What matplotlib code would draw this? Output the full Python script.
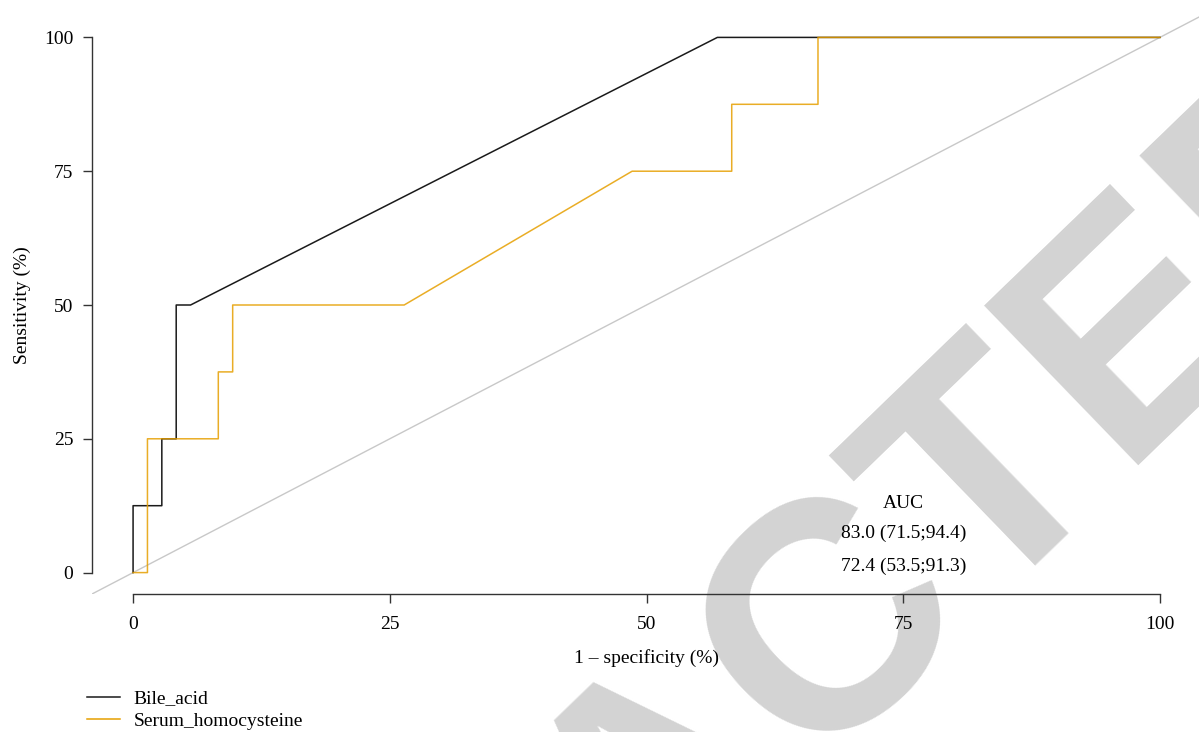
import matplotlib.pyplot as plt
from matplotlib.lines import Line2D

# ROC coordinates (1 - specificity, sensitivity), in percent
bile_fpr = [0, 0, 2.8, 2.8, 4.2, 4.2, 5.6, 56.9, 100]
bile_tpr = [0, 12.5, 12.5, 25, 25, 50, 50, 100, 100]

hcy_fpr = [0, 1.4, 1.4, 8.3, 8.3, 9.7, 9.7, 26.4, 48.6, 58.3, 58.3, 66.7, 66.7, 100]
hcy_tpr = [0, 0, 25, 25, 37.5, 37.5, 50, 50, 75, 75, 87.5, 87.5, 100, 100]

series_names = ['Bile_acid', 'Serum_homocysteine']
auc_labels = ['83.0 (71.5;94.4)', '72.4 (53.5;91.3)']
ticks = [0, 25, 50, 75, 100]

BLACK = '#1a1a1a'
ORANGE = '#E69F00'

plt.rcParams['font.family'] = ['Liberation Serif', 'DejaVu Serif']
plt.rcParams['font.size'] = 14

fig = plt.figure(figsize=(11.99, 7.32), dpi=100)
ax = fig.add_axes([92 / 1199, 1 - 594 / 732, 1109 / 1199, 578 / 732])
ax.patch.set_facecolor('none')

# watermark sits underneath the plot
fig.text(0.603, -0.155, 'RETRACTED', family='Liberation Sans', weight='bold',
         fontsize=233, color='#d3d3d3', rotation=44, rotation_mode='anchor',
         ha='center', va='baseline', zorder=-5)

ax.axline((0, 0), (100, 100), color='#c8c8c8', lw=1.0, zorder=1)
ax.plot(bile_fpr, bile_tpr, color=BLACK, lw=1.1, zorder=2)
ax.plot(hcy_fpr, hcy_tpr, color=ORANGE, lw=1.1, alpha=0.85, zorder=3)

ax.set_xlim(-4, 104)
ax.set_ylim(-4, 104)
ax.set_xticks(ticks)
ax.set_yticks(ticks)
for side in ('top', 'right'):
    ax.spines[side].set_visible(False)
ax.spines['left'].set_bounds(0, 100)
ax.spines['bottom'].set_bounds(0, 100)
for side in ('left', 'bottom'):
    ax.spines[side].set_color('#333333')
    ax.spines[side].set_linewidth(1.0)
ax.tick_params(length=6.5, width=1.0, color='#333333', pad=7, labelsize=14)
ax.tick_params(axis='x', pad=9)

ax.set_xlabel('1 \u2013 specificity (%)', labelpad=12)
ax.set_ylabel('Sensitivity (%)', labelpad=9)

ax.text(75, 13.0, 'AUC', ha='center', va='center')
ax.text(75, 7.3, auc_labels[0], ha='center', va='center')
ax.text(75, 1.2, auc_labels[1], ha='center', va='center')

handles = [Line2D([], [], color=BLACK, lw=1.1),
           Line2D([], [], color=ORANGE, lw=1.1)]
fig.legend(handles, series_names, loc='upper left',
           bbox_to_anchor=(0.066, 1 - 682 / 732), frameon=False,
           handlelength=1.7, handletextpad=0.7, labelspacing=0.25,
           borderaxespad=0, fontsize=14)

fig.savefig('out.png', dpi=100)
